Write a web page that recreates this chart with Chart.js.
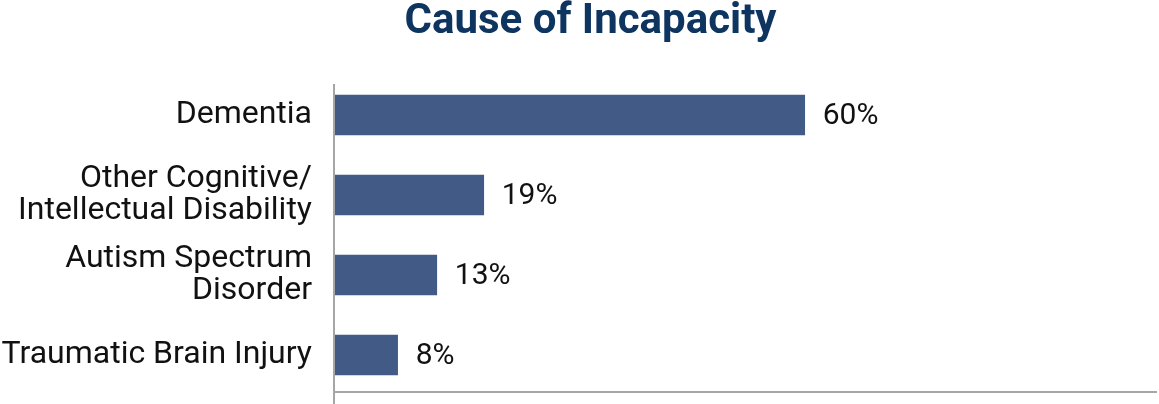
<!DOCTYPE html>
<html>
<head>
<meta charset="utf-8">
<title>Cause of Incapacity</title>
<script src="https://cdn.jsdelivr.net/npm/chart.js@4.4.1/dist/chart.umd.min.js"></script>
<style>
  html, body { margin: 0; padding: 0; background: #fff; }
  #wrap { position: relative; width: 1159px; height: 404px; }
  #wrap h1 {
    position: absolute; top: -2px; left: 24px; right: 2px; margin: 0;
    text-align: center; font: bold 42px/42px Roboto, sans-serif; color: #0e3460;
  }
</style>
</head>
<body>
<div id="wrap">
  <canvas id="incapacityChart"></canvas>
  <h1>Cause of Incapacity</h1>
</div>
<script>
// Share of cases by cause, in percent
const causes = [
    'Dementia',
    ['Other Cognitive/', 'Intellectual Disability'],
    ['Autism Spectrum', 'Disorder'],
    'Traumatic Brain Injury'
];
const shares = [60, 19, 13, 8];

const barColor = '#425a86';
const axisColor = '#a6a6a6';

// Gray frame: vertical axis line and the baseline under the bars
const framePlugin = {
    id: 'frame',
    afterDraw(chart) {
        const { ctx, chartArea } = chart;
        ctx.save();
        ctx.strokeStyle = axisColor;
        ctx.lineWidth = 2;
        ctx.beginPath();
        ctx.moveTo(chartArea.left - 1, chartArea.top + 9);
        ctx.lineTo(chartArea.left - 1, chart.height);
        ctx.moveTo(chartArea.left - 1, chartArea.bottom - 3);
        ctx.lineTo(chartArea.right, chartArea.bottom - 3);
        ctx.stroke();
        ctx.restore();
    }
};

// Percent labels to the right of each bar
const valueLabels = {
    id: 'valueLabels',
    afterDatasetsDraw(chart) {
        const { ctx } = chart;
        const meta = chart.getDatasetMeta(0);
        ctx.save();
        ctx.font = '30px Roboto';
        ctx.fillStyle = '#111';
        ctx.textAlign = 'left';
        ctx.textBaseline = 'middle';
        meta.data.forEach((bar, i) => {
            ctx.fillText(shares[i] + '%', bar.x + 18, bar.y + 1);
        });
        ctx.restore();
    }
};

new Chart(document.getElementById('incapacityChart'), {
    type: 'bar',
    data: {
        labels: causes,
        datasets: [{
            data: shares,
            backgroundColor: barColor,
            borderWidth: 0,
            barThickness: 40
        }]
    },
    options: {
        indexAxis: 'y',
        responsive: true,
        maintainAspectRatio: false,
        animation: false,
        layout: { padding: { left: 0, right: 2, top: 75, bottom: 9 } },
        plugins: {
            legend: { display: false },
            tooltip: { enabled: false }
        },
        scales: {
            x: {
                display: false,
                min: 0,
                max: 105
            },
            y: {
                afterFit(axis) {
                    axis.width = 335;
                    axis.paddingTop = 0;
                    axis.paddingBottom = 0;
                },
                border: { display: false },
                grid: { display: false, drawTicks: false },
                ticks: {
                    color: '#111',
                    padding: 23,
                    font: { family: 'Roboto', size: 32, lineHeight: 1.03 }
                }
            }
        }
    },
    plugins: [framePlugin, valueLabels]
});
</script>
</body>
</html>
